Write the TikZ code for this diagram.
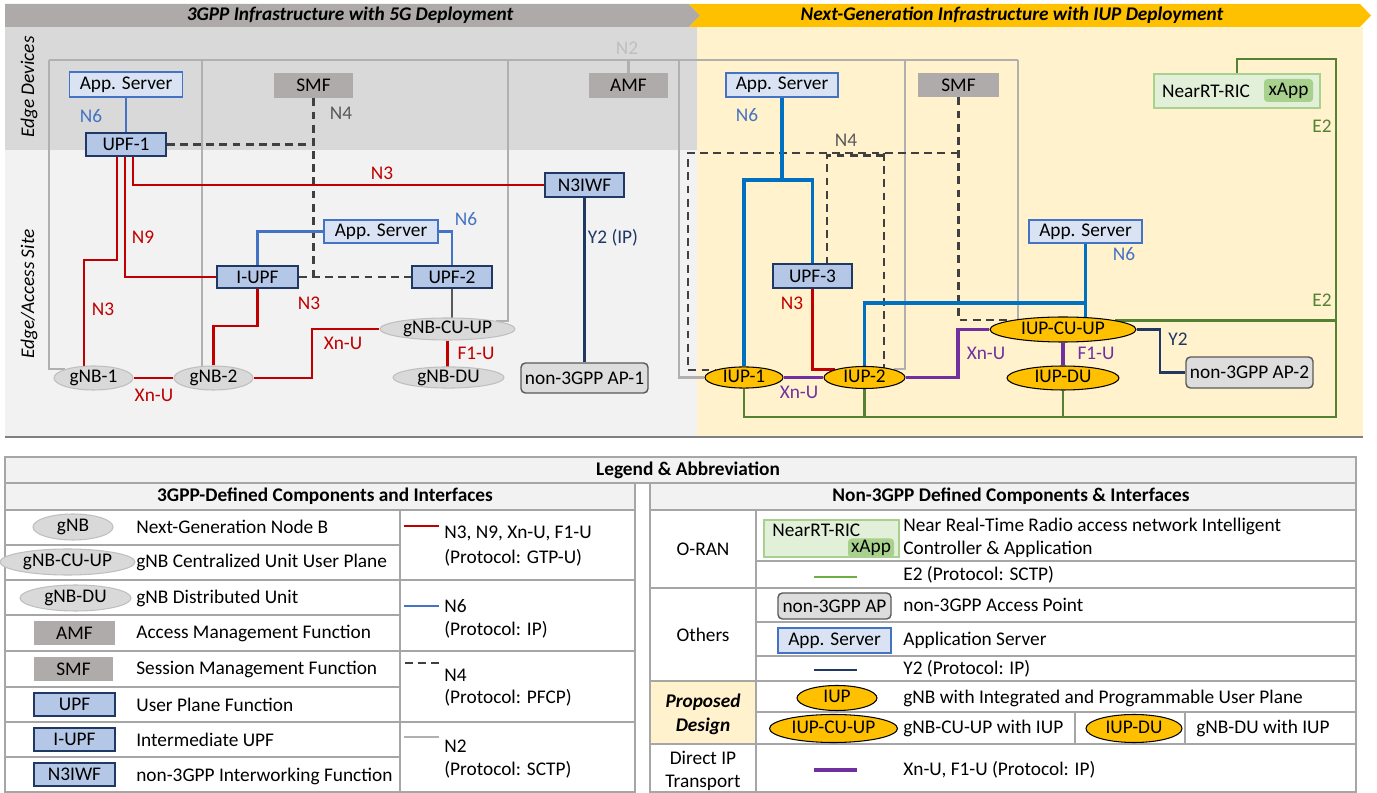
\documentclass[tikz,border=0pt]{standalone}
\usepackage{fontspec}
\setmainfont{Carlito}
\usepackage{tikz}
\usetikzlibrary{shapes.geometric}
\definecolor{bangray}{HTML}{AEAAAA}
\definecolor{banyellow}{HTML}{FFC000}
\definecolor{devbg}{HTML}{D9D9D9}
\definecolor{sitebg}{HTML}{F2F2F2}
\definecolor{iupbg}{HTML}{FFF2CC}
\definecolor{appfill}{HTML}{DAE3F3}
\definecolor{appline}{HTML}{4472C4}
\definecolor{upffill}{HTML}{B4C7E7}
\definecolor{upfline}{HTML}{203864}
\definecolor{nffill}{HTML}{AFABAB}
\definecolor{gnbfill}{HTML}{D9D9D9}
\definecolor{gnbline}{HTML}{BFBFBF}
\definecolor{apfill}{HTML}{DDDDDD}
\definecolor{apline}{HTML}{595959}
\definecolor{ricfill}{HTML}{E2F0D9}
\definecolor{ricline}{HTML}{A9D18E}
\definecolor{gtpred}{HTML}{C00000}
\definecolor{ipblue}{HTML}{4472C4}
\definecolor{ipbluedk}{HTML}{0070C0}
\definecolor{pfcp}{HTML}{404040}
\definecolor{pfcptxt}{HTML}{595959}
\definecolor{sctp}{HTML}{B0B0B0}
\definecolor{sctptxt}{HTML}{BFBFBF}
\definecolor{ytwo}{HTML}{1F3864}
\definecolor{etwo}{HTML}{548235}
\definecolor{etwolight}{HTML}{70AD47}
\definecolor{dipurple}{HTML}{7030A0}
\definecolor{rulegray}{HTML}{A6A6A6}
\newcommand{\lblfont}{\fontsize{11}{13}\selectfont}
\pgfdeclarelayer{bg}
\pgfdeclarelayer{wires}
\pgfsetlayers{bg,wires,main}
\tikzset{
  sz/.style 2 args={minimum width=#1*0.02cm, minimum height=#2*0.02cm},
  box/.style={rectangle, inner sep=0pt, font=\lblfont},
  appsrv/.style={box, fill=appfill, draw=appline, line width=0.8pt},
  upf/.style={box, fill=upffill, draw=upfline, line width=0.8pt},
  nf/.style={box, fill=nffill},
  ap/.style={box, fill=apfill, draw=apline, line width=0.8pt, rounded corners=2.5pt},
  ric/.style={box, fill=ricfill, draw=ricline, line width=0.9pt},
  xapp/.style={box, fill=ricline, rounded corners=2pt},
  gnb/.style={ellipse, inner sep=0pt, fill=gnbfill, draw=gnbline, line width=0.6pt, font=\lblfont, text height=7pt, text depth=1.5pt},
  iup/.style={gnb, fill=banyellow, draw=black},
  lab/.style={font=\lblfont, inner sep=0pt},
  bantxt/.style={lab, font=\lblfont\bfseries\itshape},
  sidetxt/.style={lab, font=\lblfont\itshape, rotate=90},
  gtp/.style={draw=gtpred, line width=1.4pt},
  nsix/.style={draw=ipblue, line width=1.7pt},
  nsixdk/.style={draw=ipbluedk, line width=1.8pt},
  nfour/.style={draw=pfcp, line width=1.2pt, dash pattern=on 4.5pt off 3pt},
  ntwo/.style={draw=sctp, line width=1.3pt},
  ytwoline/.style={draw=ytwo, line width=1.3pt},
  etwoline/.style={draw=etwo, line width=1.4pt},
  dip/.style={draw=dipurple, line width=2pt},
  tabline/.style={draw=rulegray, line width=0.6pt},
  lgtxt/.style={lab, anchor=west},
  lghead/.style={lab, font=\lblfont\bfseries},
}
\begin{document}
\begin{tikzpicture}[x=0.02cm, y=-0.02cm]
\useasboundingbox (0,0) rectangle (1377,793);
\begin{pgfonlayer}{bg}
  \fill[devbg] (5,27) rectangle (697,150);
  \fill[sitebg] (5,150) rectangle (697,437);
  \fill[iupbg] (697,27) rectangle (1363,437);
  \draw[gray, line width=0.7pt] (5,437) -- (1363,437);
  \fill[bangray] (5,4) -- (689,4) -- (700,15.5) -- (689,27) -- (5,27) -- cycle;
  \fill[banyellow] (689,4) -- (1360,4) -- (1371,15.5) -- (1360,27) -- (689,27) -- (700,15.5) -- cycle;
\end{pgfonlayer}
\node[bantxt] (ban3gpp) at (350,15.5) {3GPP Infrastructure with 5G Deployment};
\node[bantxt] (baniup) at (1012,15.5) {Next-Generation Infrastructure with IUP Deployment};
\node[sidetxt] (edgedev) at (29,87) {Edge Devices};
\node[sidetxt] (edgesite) at (29,294) {Edge/Access Site};

% 3GPP side
\node[appsrv, sz={113}{25}] (as1) at (126,84.5) {App. Server};
\node[upf, sz={80}{23}] (upf1) at (126,144.5) {UPF-1};
\node[nf, sz={79}{25}] (smf1) at (313.5,85.5) {SMF};
\node[nf, sz={79}{25}] (amf) at (628.5,85.5) {AMF};
\node[upf, sz={79}{24}] (n3iwf) at (584.5,185) {N3IWF};
\node[appsrv, sz={114}{23}] (as2) at (381,231.5) {App. Server};
\node[upf, sz={81}{22}] (iupf) at (257.5,277) {I-UPF};
\node[upf, sz={80}{22}] (upf2) at (452,277) {UPF-2};
\node[gnb, sz={135}{22}] (cuup) at (447.5,329) {gNB-CU-UP};
\node[gnb, sz={111}{21}] (du) at (448.5,377.5) {gNB-DU};
\node[gnb, sz={79}{24}] (gnb1) at (93.5,378) {gNB-1};
\node[gnb, sz={79}{24}] (gnb2) at (213.5,378) {gNB-2};
\node[ap, sz={127}{30}] (ap1) at (584.5,378) {non-3GPP AP-1};

% IUP side
\node[appsrv, sz={112}{24}] (as3) at (782,85) {App. Server};
\node[nf, sz={81}{24}] (smf2) at (958.5,85) {SMF};
\node[upf, sz={79}{24}] (upf3) at (812.5,276) {UPF-3};
\node[iup, sz={78}{21}] (iup1) at (744,377.5) {IUP-1};
\node[iup, sz={81}{22}] (iup2) at (864.5,377.5) {IUP-2};
\node[iup, sz={146}{25}] (iupcu) at (1063,329.5) {IUP-CU-UP};
\node[iup, sz={112}{24}] (iupdu) at (1063,378) {IUP-DU};
\node[appsrv, sz={113}{23}] (as4) at (1085.5,231.5) {App. Server};
\node[ap, sz={127}{31}] (ap2) at (1249.5,372.5) {non-3GPP AP-2};
\node[ric, sz={166}{34}] (ric) at (1237,91) {};
\node[lab] (rictxt) at (1206,91) {NearRT-RIC};
\node[xapp, sz={49}{23}] (xapp) at (1288.5,90.5) {xApp};

\coordinate (n2a) at (49,60);
\coordinate (n2b) at (202,60);
\coordinate (n2c) at (508,60);
\coordinate (n2d) at (679,60);
\coordinate (n2e) at (905,60);
\coordinate (n2f) at (1018,60);
\coordinate (n4r) at (958.5,153);
\coordinate (n4l) at (688,153);
\coordinate (n4m) at (884,153);
\coordinate (n4u) at (827,155.5);
\coordinate (e2t) at (1336,59);
\coordinate (e2b) at (1336,417);

\begin{pgfonlayer}{wires}
  \draw[ntwo] (n2a) -- (n2f);
  \draw[ntwo] (n2a) |- (gnb1.north west);
  \draw[ntwo] (n2b) -- (n2b |- gnb2);
  \draw[ntwo] (amf) -- (amf |- n2a);
  \draw[ntwo] (n2c) |- (cuup.north east);
  \draw[ntwo] (n2d) |- (iup1);
  \draw[ntwo] (n2e) |- (iup2.north east);
  \draw[ntwo] (n2f) -- (n2f |- iupcu);

  \draw[nfour] (smf1) -- (smf1 |- iupf);
  \draw[nfour] (iupf) -- (upf2);
  \draw[nfour] (upf1) -- (upf1 -| smf1);
  \draw[nfour] (smf2) |- (iupcu.north west);
  \draw[nfour] (n4r) -- (n4l) |- (iup1.north west);
  \draw[nfour] (n4m) -- (n4m |- iup2);
  \draw[nfour] (n4m |- n4u) -- (n4u) -- (n4u |- upf3);

  \draw[gtp] (upf1) ++(7,0) |- (n3iwf);
  \draw[gtp] (upf1) ++(-9,0) -- ++(0,115.5) -| ([xshift=-0.19cm]gnb1.center);
  \draw[gtp] (upf1) ++(-1,0) |- (iupf);
  \draw[gtp] (iupf) -- ++(0,49) -| (gnb2);
  \draw[gtp] (gnb1) -- (gnb2);
  \draw[gtp] (gnb2) -- ++(98.5,0) |- (cuup);
  \draw[gtp] (cuup) -- (cuup |- du);
  \draw[gtp] (upf3) |- (iup2.north west);

  \draw[nsix] (as1) -- (upf1);
  \draw[nsix] (iupf) |- (as2);
  \draw[nsix] (as2) -| (upf2);
  \draw[draw=apline, line width=1.2pt] (upf2) -- (upf2 |- cuup);
  \draw[ytwoline] (n3iwf) -- (ap1);

  \draw[nsixdk] (as3) -- ++(0,95) coordinate (j6);
  \draw[nsixdk] (iup1) |- (j6) -| (upf3);
  \draw[nsixdk] (iup2) -- ++(0,-74.5) -| (as4);
  \draw[nsixdk] (as4) -- (as4 |- iupcu);

  \draw[dip] (iup1) -- (iup2);
  \draw[dip] (iup2) -- ++(93.5,0) |- (iupcu);
  \draw[dip] (iupcu) -- (iupdu);
  \draw[ytwoline] (iupcu) -- ++(97,0) |- (ap2);

  \draw[etwoline] (ric) |- (e2t) -- (e2b) -| (iup1);
  \draw[etwoline] (iup2) -- (iup2 |- e2b);
  \draw[etwoline] (iupdu) -- (iupdu |- e2b);
  \draw[etwoline] (iupcu.north east) -- (iupcu.north east -| e2t);
\end{pgfonlayer}

\node[lab, text=sctptxt] (ln2) at (627,48) {N2};
\node[lab, text=ipblue] (ln6a) at (91,116) {N6};
\node[lab, text=pfcptxt] (ln4a) at (341,113) {N4};
\node[lab, text=gtpred] (ln3a) at (382,173) {N3};
\node[lab, text=gtpred] (ln9) at (143,237) {N9};
\node[lab, text=gtpred] (ln3b) at (103,309) {N3};
\node[lab, text=gtpred] (ln3c) at (309,303) {N3};
\node[lab, text=ipblue] (ln6b) at (466,219) {N6};
\node[lab, text=gtpred] (lxna) at (154,395) {Xn-U};
\node[lab, text=gtpred] (lxnb) at (343,343) {Xn-U};
\node[lab, text=gtpred] (lf1a) at (476,353) {F1-U};
\node[lab, text=ytwo] (ly2a) at (613,238) {Y2 (IP)};
\node[lab, text=ipblue] (ln6c) at (747,115) {N6};
\node[lab, text=pfcptxt] (ln4b) at (846,140) {N4};
\node[lab, text=gtpred] (ln3d) at (792,303) {N3};
\node[lab, text=dipurple] (lxnc) at (799,392) {Xn-U};
\node[lab, text=dipurple] (lxnd) at (986,353) {Xn-U};
\node[lab, text=dipurple] (lf1b) at (1096,353) {F1-U};
\node[lab, text=ytwo] (ly2b) at (1178,339) {Y2};
\node[lab, text=ipblue] (ln6d) at (1124,254) {N6};
\node[lab, text=etwo] (le2a) at (1322,126) {E2};
\node[lab, text=etwo] (le2b) at (1322,300) {E2};

% legend
\draw[tabline, fill=sitebg] (5,457) rectangle (1356,483);
\node[lghead] (lgtitle) at (688,470) {Legend \& Abbreviation};
\draw[tabline, fill=sitebg] (5,483) rectangle (635,510);
\node[lghead] (lgleft) at (325,496) {3GPP-Defined Components and Interfaces};
\draw[tabline] (5,510) rectangle (635,792);
\draw[tabline] (400,510) -- (400,792);
\foreach \y in {545,580,615,651,687,722,757} \draw[tabline] (5,\y) -- (400,\y);
\foreach \y in {580,651,722} \draw[tabline] (400,\y) -- (635,\y);

\draw[tabline, fill=sitebg] (650,483) rectangle (1356,510);
\node[lghead] (lgright) at (1011,496) {Non-3GPP Defined Components \& Interfaces};
\draw[tabline, fill=iupbg] (650,681) rectangle (756,744);
\draw[tabline] (650,510) rectangle (1356,792);
\draw[tabline] (756,510) -- (756,792);
\foreach \y in {588,681,744} \draw[tabline] (650,\y) -- (1356,\y);
\foreach \y in {561,622,656,712} \draw[tabline] (756,\y) -- (1356,\y);
\draw[tabline] (1075,712) -- (1075,744) (1185,712) -- (1185,744);

\node[gnb, sz={80}{26}] (lgnb) at (73,527) {gNB};
\node[gnb, sz={135}{26}] (lgcu) at (67.5,562) {gNB-CU-UP};
\node[gnb, sz={111}{26}] (lgdu) at (75.5,598) {gNB-DU};
\node[nf, sz={81}{24}] (lgamf) at (74.5,633) {AMF};
\node[nf, sz={79}{24}] (lgsmf) at (73.5,669) {SMF};
\node[upf, sz={81}{23}] (lgupf) at (74.5,704.5) {UPF};
\node[upf, sz={81}{23}] (lgiupf) at (74.5,739.5) {I-UPF};
\node[upf, sz={81}{23}] (lgn3iwf) at (74.5,774.5) {N3IWF};
\foreach \y/\t [count=\i] in {527/Next-Generation Node B, 562/gNB Centralized Unit User Plane,
    598/gNB Distributed Unit, 633/Access Management Function, 669/Session Management Function,
    705/User Plane Function, 740/Intermediate UPF, 776/non-3GPP Interworking Function}
  \node[lgtxt] (ldesc\i) at (136,\y) {\t};

\draw[gtp] (404,526) -- (439,526);
\node[lgtxt] (lif1) at (444,533) {N3, N9, Xn-U, F1-U};
\node[lgtxt] (lpr1) at (444,558) {(Protocol: GTP-U)};
\draw[nsix, line width=1.4pt] (404,606) -- (439,606);
\node[lgtxt] (lif2) at (444,606) {N6};
\node[lgtxt] (lpr2) at (444,630) {(Protocol: IP)};
\draw[nfour, line width=1pt] (439,663) -- (404,663);
\node[lgtxt] (lif3) at (444,675) {N4};
\node[lgtxt] (lpr3) at (444,698) {(Protocol: PFCP)};
\draw[ntwo] (404,737) -- (439,737);
\node[lgtxt] (lif4) at (444,746) {N2};
\node[lgtxt] (lpr4) at (444,770) {(Protocol: SCTP)};

\node[lab] (cat1) at (703,549) {O-RAN};
\node[lab] (cat2) at (703,635) {Others};
\node[lab, font=\lblfont\bfseries\itshape] (cat3) at (703,702) {Proposed};
\node[lab, font=\lblfont\bfseries\itshape] (cat4) at (703,726) {Design};
\node[lab] (cat5) at (703,758) {Direct IP};
\node[lab] (cat6) at (703,783) {Transport};

\node[ric, sz={135}{37}] (lgric) at (831.5,538.5) {};
\node[lgtxt] (lgrictxt) at (772,530) {NearRT-RIC};
\node[xapp, sz={46}{19}] (lgxapp) at (871,548) {xApp};
\draw[etwoline, draw=etwolight] (814,577) -- (857,577);
\node[ap, sz={113}{26}] (lgap) at (834.5,606) {non-3GPP AP};
\node[appsrv, sz={113}{25}] (lgas) at (834.5,640.5) {App. Server};
\draw[ytwoline, line width=1.5pt] (814,670) -- (857,670);
\node[iup, sz={80}{25}] (lgiup) at (837,698) {IUP};
\node[iup, sz={128}{28}] (lgiupcu) at (833.5,728.5) {IUP-CU-UP};
\node[iup, sz={96}{28}] (lgiupdu) at (1134,728.5) {IUP-DU};
\draw[dip] (814,770) -- (857,770);
\foreach \y/\t [count=\i] in {526/Near Real-Time Radio access network Intelligent,
    549/Controller \& Application, 575/E2 (Protocol: SCTP), 605/non-3GPP Access Point,
    640/Application Server, 669/Y2 (Protocol: IP),
    698/gNB with Integrated and Programmable User Plane, 728/gNB-CU-UP with IUP}
  \node[lgtxt] (rdesc\i) at (903,\y) {\t};
\node[lgtxt] (rdesc9) at (1196,728) {gNB-DU with IUP};
\node[lgtxt] (rdesc10) at (903,770) {Xn-U, F1-U (Protocol: IP)};
\end{tikzpicture}
\end{document}
